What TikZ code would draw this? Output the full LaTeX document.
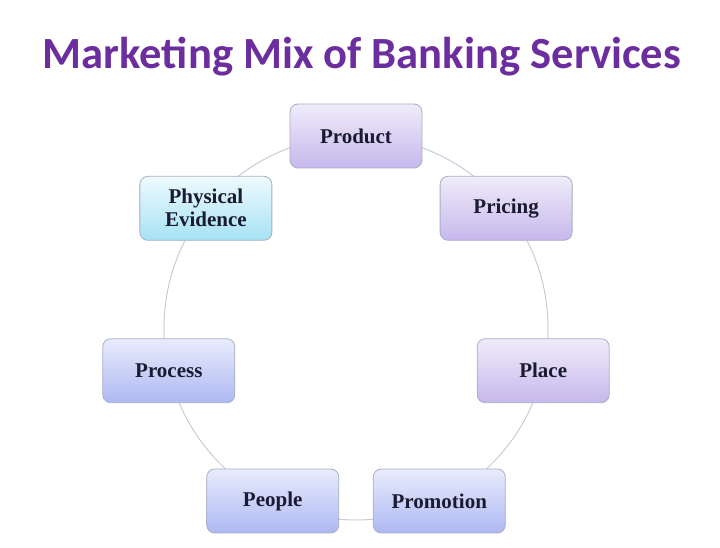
\documentclass[tikz,border=0pt]{standalone}
\usepackage{fontspec}
\setmainfont{Liberation Serif}
\newfontfamily\titlefont{Carlito}
\usetikzlibrary{positioning}

\definecolor{titlepurple}{HTML}{6C2E9E}
\definecolor{mixtext}{HTML}{1A1A30}
\definecolor{ringgray}{HTML}{C8CCD8}
\definecolor{boxedge}{HTML}{A8AEC4}
\definecolor{lavtop}{HTML}{F0ECFA}
\definecolor{lavbot}{HTML}{C6B8EC}
\definecolor{bluetop}{HTML}{E8ECFC}
\definecolor{bluebot}{HTML}{AEB8F2}
\definecolor{cyantop}{HTML}{EEFAFE}
\definecolor{cyanbot}{HTML}{A6E2F4}

\tikzset{
	mixbox/.style={draw=boxedge, line width=0.8pt, rounded corners=8pt,
		minimum width=132pt, minimum height=64pt, align=center,
		font=\bfseries\fontsize{21}{23}\selectfont, text=mixtext},
	lavbox/.style={mixbox, top color=lavtop, bottom color=lavbot},
	bluebox/.style={mixbox, top color=bluetop, bottom color=bluebot},
	cyanbox/.style={mixbox, top color=cyantop, bottom color=cyanbot}
}

\begin{document}
\begin{tikzpicture}[x=1pt, y=1pt]
	\useasboundingbox (0,0) rectangle (720,547);
	\node[font=\titlefont\bfseries\fontsize{44.6}{49}\selectfont, text=titlepurple] (title) at (362,490) {Marketing Mix of Banking Services};
	\coordinate (ring) at (356,219);
	\draw[ringgray, line width=1pt] (ring) circle (192);
	\node[lavbox] (product) at ([shift={(90:192)}]ring) {Product};
	\node[lavbox] (pricing) at ([shift={(38.57:192)}]ring) {Pricing};
	\node[lavbox] (place) at ([shift={(-12.86:192)}]ring) {Place};
	\node[bluebox] (promotion) at ([shift={(-64.29:192)}]ring) {Promotion};
	\node[bluebox] (people) at ([shift={(-115.71:192)}]ring) {People};
	\node[bluebox] (process) at ([shift={(-167.14:192)}]ring) {Process};
	\node[cyanbox] (evidence) at ([shift={(141.43:192)}]ring) {Physical\\Evidence};
\end{tikzpicture}
\end{document}
